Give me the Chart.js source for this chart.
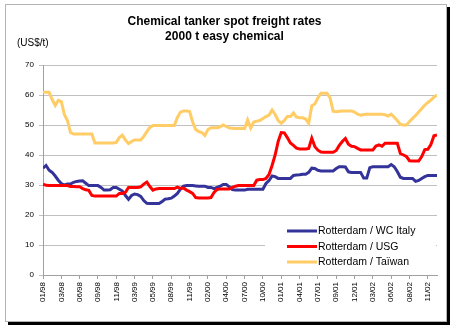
<!DOCTYPE html>
<html>
<head>
<meta charset="utf-8">
<script src="https://cdn.jsdelivr.net/npm/chart.js@4"></script>
<style>
  body { margin:0; background:#fff; }
  #frame { position:absolute; left:5px; top:4px; width:440px; height:316px; border:1px solid #b4b4b4; box-shadow:3px 3px 0 #000; background:#fff; }
  #chart { position:absolute; left:0; top:0; }
</style>
</head>
<body>
<div id="frame"></div>
<canvas id="chart" width="452" height="328"></canvas>
<script>
const TICK_LABELS = ['01/98','03/98','06/98','09/98','11/98','03/99','05/99','08/99','11/99','02/00','04/00',
  '07/00','10/00','01/01','04/01','07/01','09/01','12/01','03/02','06/02','08/02','11/02'];
const POINTS_PER_TICK = 6;

const SERIES_NAMES = ['Rotterdam / WC Italy', 'Rotterdam / USG', 'Rotterdam / Taïwan'];
const SERIES_COLORS = ['#333399', '#FF0000', '#FFCC66'];

// US$/t, one value every ~2 weeks, Jan 1998 - Dec 2002
const WC_ITALY = [
  35.6,36.5,34.9,34.2,33.0,31.6,30.5,30.0,30.3,30.3,30.9,31.2,31.3,31.4,30.6,29.8,29.8,29.8,29.8,29.2,
  28.3,28.3,28.4,29.2,29.2,28.6,28.0,26.5,25.2,26.5,27.0,26.8,26.2,24.8,23.9,23.8,23.8,23.8,23.8,24.5,
  25.3,25.4,25.6,26.3,27.2,28.6,29.6,29.8,29.8,29.8,29.7,29.6,29.6,29.6,29.2,29.2,28.8,29.2,29.6,30.2,
  30.2,29.4,28.5,28.3,28.3,28.3,28.3,28.6,28.6,28.6,28.6,28.6,28.6,30.5,31.5,33.0,32.8,32.2,32.2,32.2,
  32.2,32.2,33.2,33.3,33.4,33.6,33.6,34.2,35.6,35.5,34.9,34.7,34.7,34.7,34.7,34.7,35.5,36.1,36.1,36.0,
  34.4,34.2,34.2,34.2,34.2,32.3,32.3,35.8,36.1,36.1,36.1,36.1,36.1,36.1,36.8,36.1,34.5,32.6,32.2,32.2,
  32.2,32.2,31.2,31.5,32.2,32.8,33.2,33.2,33.2,33.2
];
const USG = [
  30.3,29.9,29.8,29.8,29.8,29.8,29.8,29.8,29.8,29.5,29.5,29.4,29.4,28.8,28.4,28.2,26.5,26.3,26.3,26.3,
  26.3,26.3,26.3,26.3,26.3,27.2,27.2,27.6,29.2,29.2,29.2,29.2,29.4,30.3,31.0,29.5,28.3,28.7,28.8,28.8,
  28.8,28.8,28.8,28.8,29.3,28.9,29.0,28.3,27.8,27.2,25.8,25.7,25.7,25.7,25.7,25.8,27.5,28.5,28.7,28.7,
  28.7,28.7,29.2,29.6,29.8,29.8,29.8,29.8,29.8,29.8,31.6,31.8,31.8,32.2,33.5,36.5,40.0,44.5,47.5,47.4,
  45.8,44.0,43.2,42.3,42.0,42.0,42.0,42.2,45.6,42.8,41.6,41.0,40.9,40.9,40.9,40.9,41.5,43.2,44.5,45.5,
  43.6,42.9,42.8,42.2,41.7,41.7,41.7,41.7,41.7,43.0,43.4,42.9,43.9,43.9,43.9,43.9,43.9,40.5,40.0,39.5,
  38.1,38.0,38.0,38.0,39.5,41.8,41.9,43.5,46.4,46.7
];
const TAIWAN = [
  60.9,60.9,60.9,58.5,56.5,58.2,57.8,53.5,51.5,47.5,47.0,47.0,47.0,47.0,47.0,47.0,47.0,44.0,44.0,44.0,
  44.0,44.0,44.0,44.0,44.2,45.8,46.6,45.0,43.8,44.5,45.0,45.0,45.0,46.2,47.8,49.2,49.8,49.8,49.8,49.8,
  49.8,49.8,49.8,49.8,52.5,54.3,54.7,54.7,54.5,51.0,48.5,47.8,47.5,46.5,48.5,49.1,49.1,49.1,49.4,50.0,
  49.5,49.0,48.9,48.8,48.8,48.9,48.8,51.7,49.0,51.0,51.3,51.5,52.2,52.8,53.3,55.0,53.5,51.5,50.6,51.5,
  52.8,52.8,54.0,52.6,52.4,52.4,52.0,50.6,56.4,57.0,59.0,60.6,60.6,60.6,59.0,54.6,54.4,54.6,54.7,54.7,
  54.7,54.7,54.3,53.6,53.3,53.5,53.6,53.6,53.6,53.6,53.6,53.6,53.4,53.0,53.6,52.6,51.5,50.2,50.0,50.0,
  51.2,52.2,53.2,54.3,55.5,56.6,57.5,58.3,59.3,60.0
];

const Y_MIN = 0, Y_MAX = 70, Y_STEP = 10;
const FONT = "'Liberation Sans', Arial, sans-serif";

const unitLabel = {
  id: 'unitLabel',
  afterDraw(chart){
    const ctx = chart.ctx;
    ctx.save();
    ctx.font = `10px ${FONT}`;
    ctx.fillStyle = '#000';
    ctx.textBaseline = 'middle';
    ctx.fillText('(US$/t)', 17, 43);
    ctx.restore();
  }
};

// legend sits inside the plot, bottom right, on a white box
const insideLegend = {
  id: 'insideLegend',
  afterDatasetsDraw(chart){
    const ctx = chart.ctx;
    const area = chart.chartArea;
    ctx.save();
    ctx.fillStyle = '#fff';
    ctx.fillRect(265, 220, area.right - 266, 52);
    ctx.font = `10.5px ${FONT}`;
    ctx.textBaseline = 'middle';
    chart.data.datasets.forEach((ds, i) => {
      const y = 231 + i * 15.5;
      ctx.strokeStyle = ds.borderColor;
      ctx.lineWidth = 3;
      ctx.beginPath();
      ctx.moveTo(287, y);
      ctx.lineTo(317, y);
      ctx.stroke();
      ctx.fillStyle = '#000';
      ctx.fillText(ds.label, 318, y + 0.5);
    });
    ctx.restore();
  }
};

const series = [WC_ITALY, USG, TAIWAN];
const indices = WC_ITALY.map((_, i) => i);

new Chart(document.getElementById('chart'), {
  type: 'line',
  data: {
    labels: indices,
    datasets: series.map((vals, i) => ({
      label: SERIES_NAMES[i],
      data: vals,
      borderColor: SERIES_COLORS[i],
      backgroundColor: SERIES_COLORS[i],
      borderWidth: 3,
      pointRadius: 0,
      tension: 0,
      fill: false,
      order: series.length - i
    }))
  },
  options: {
    responsive: false,
    animation: false,
    devicePixelRatio: 1,
    layout: { padding: { left: 12, right: 15, top: 0, bottom: 0 } },
    plugins: {
      legend: { display: false },
      tooltip: { enabled: false },
      title: {
        display: true,
        text: ['Chemical tanker spot freight rates', '2000 t easy chemical'],
        color: '#000',
        font: { family: FONT, size: 12, weight: 'bold', lineHeight: 1.25 },
        padding: { top: 14, bottom: 21 }
      }
    },
    scales: {
      x: {
        type: 'linear',
        min: 0,
        max: indices.length - 1,
        afterFit: s => { s.height = 53; },
        grid: { drawOnChartArea: false, drawTicks: true, tickLength: 4, color: '#a0a0a0' },
        border: { color: '#a0a0a0' },
        ticks: {
          stepSize: POINTS_PER_TICK,
          includeBounds: false,
          autoSkip: false,
          minRotation: 90,
          maxRotation: 90,
          padding: 3,
          color: '#000',
          font: { family: FONT, size: 8 },
          callback: v => TICK_LABELS[v / POINTS_PER_TICK] ?? ''
        }
      },
      y: {
        min: Y_MIN,
        max: Y_MAX,
        afterFit: s => { s.width = 31; },
        grid: { color: '#c0c0c0', tickLength: 4 },
        border: { color: '#a0a0a0' },
        ticks: {
          stepSize: Y_STEP,
          padding: 5,
          color: '#000',
          font: { family: FONT, size: 8 }
        }
      }
    }
  },
  plugins: [unitLabel, insideLegend]
});
</script>
</body>
</html>
